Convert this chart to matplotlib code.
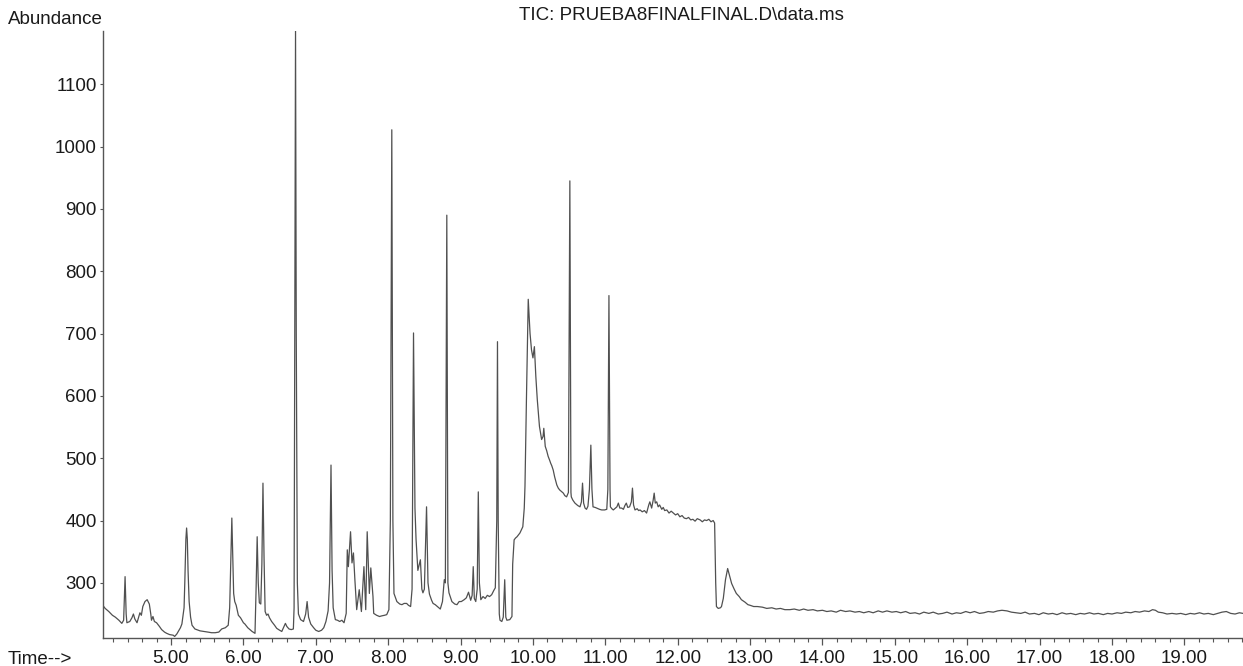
import matplotlib
matplotlib.use("Agg")
import matplotlib.pyplot as plt
from matplotlib.ticker import MultipleLocator, FormatStrFormatter
import numpy as np

plt.rcParams['font.family'] = ['Liberation Sans', 'DejaVu Sans']

title = 'TIC: PRUEBA8FINALFINAL.D\\data.ms'

# early part of the run (min, abundance)
t_early = [4.07, 4.09, 4.14, 4.19, 4.23, 4.28, 4.32, 4.345, 4.365, 4.38, 4.39, 4.43, 4.46, 4.48,
           4.50, 4.53, 4.56, 4.57, 4.59, 4.61, 4.64, 4.67, 4.70, 4.72, 4.73, 4.75, 4.77, 4.80,
           4.84, 4.87, 4.91, 4.94, 4.98, 5.03, 5.05, 5.08, 5.10, 5.13, 5.15, 5.18, 5.19, 5.205,
           5.215, 5.225, 5.235, 5.25, 5.27, 5.29, 5.33, 5.40, 5.46, 5.51, 5.56, 5.61, 5.66, 5.70,
           5.75, 5.79, 5.81, 5.825, 5.84, 5.855, 5.865, 5.88, 5.90, 5.93, 5.96, 5.98, 6.00, 6.02,
           6.06, 6.09, 6.12, 6.16, 6.175, 6.19, 6.205, 6.22, 6.24, 6.255, 6.27, 6.285, 6.30, 6.32,
           6.34, 6.36, 6.39, 6.43, 6.46, 6.50, 6.53, 6.56, 6.58, 6.60, 6.63, 6.66, 6.69, 6.70,
           6.71, 6.72, 6.73, 6.745, 6.76, 6.79, 6.83, 6.86, 6.88, 6.90, 6.93, 6.97, 7.00, 7.04,
           7.08, 7.11, 7.14, 7.17, 7.19, 7.21, 7.225, 7.24, 7.27, 7.30, 7.33, 7.36, 7.39]
a_early = [262, 259, 254, 248, 245, 240, 235, 240, 310, 250, 236, 238, 244, 250,
           242, 236, 248, 252, 248, 262, 270, 273, 266, 250, 240, 246, 238, 236,
           230, 225, 221, 219, 217, 216, 214, 218, 222, 228, 234, 260, 300, 370,
           388, 370, 320, 270, 245, 232, 226, 223, 222, 221, 220, 220, 221, 226,
           228, 232, 260, 330, 404, 330, 283, 270, 264, 248, 244, 240, 236, 234,
           228, 225, 222, 219, 290, 374, 300, 268, 266, 330, 460, 340, 254, 248,
           250, 244, 238, 232, 227, 224, 222, 230, 235, 230, 226, 225, 226, 260,
           700, 1190, 700, 300, 250, 241, 238, 250, 270, 245, 234, 228, 224, 222,
           224, 228, 238, 255, 300, 489, 320, 260, 241, 240, 238, 240, 236]

# middle part with the main peaks
t_mid = [7.42, 7.435, 7.45, 7.48, 7.50, 7.52, 7.54, 7.565, 7.60, 7.63, 7.665, 7.69, 7.71, 7.74,
         7.76, 7.79, 7.80, 7.84, 7.88, 7.91, 7.95, 7.98, 8.01, 8.03, 8.05, 8.065, 8.08, 8.12,
         8.16, 8.19, 8.22, 8.255, 8.28, 8.31, 8.33, 8.35, 8.37, 8.385, 8.41, 8.445, 8.465, 8.48,
         8.50, 8.53, 8.55, 8.57, 8.60, 8.62, 8.65, 8.68, 8.72, 8.75, 8.775, 8.79, 8.81, 8.825,
         8.84, 8.88, 8.92, 8.95, 8.98, 9.01, 9.05, 9.08, 9.11, 9.14, 9.16, 9.175, 9.19, 9.21,
         9.23, 9.245, 9.26, 9.28, 9.31, 9.34, 9.37, 9.40, 9.43, 9.46, 9.48, 9.50, 9.51, 9.52,
         9.535, 9.545, 9.57, 9.59, 9.61, 9.625, 9.64, 9.68, 9.71, 9.72, 9.74, 9.76, 9.78, 9.82,
         9.86, 9.88, 9.89, 9.91, 9.935, 9.96, 9.98, 10.00, 10.02, 10.04, 10.06, 10.09, 10.12]
a_mid = [251, 353, 326, 382, 332, 348, 305, 257, 289, 254, 326, 257, 382, 283,
         324, 278, 251, 248, 246, 247, 248, 249, 257, 400, 1027, 400, 283, 270,
         266, 265, 267, 267, 264, 262, 290, 701, 420, 370, 320, 337, 290, 284,
         290, 422, 300, 282, 272, 267, 265, 262, 258, 270, 305, 300, 890, 300,
         284, 270, 266, 265, 270, 270, 273, 276, 285, 272, 280, 326, 275, 270,
         290, 446, 300, 273, 278, 275, 280, 278, 281, 288, 292, 400, 687, 400,
         250, 240, 238, 245, 305, 245, 240, 241, 246, 330, 369, 372, 374, 380,
         390, 420, 455, 594, 755, 700, 674, 661, 679, 631, 594, 551, 530]

# hump and plateau
t_hump = [10.14, 10.15, 10.17, 10.19, 10.21, 10.23, 10.245, 10.26, 10.28, 10.30, 10.33, 10.35,
          10.37, 10.40, 10.42, 10.44, 10.465, 10.49, 10.51, 10.525, 10.53, 10.55, 10.58, 10.62,
          10.65, 10.67, 10.685, 10.70, 10.72, 10.74, 10.76, 10.78, 10.80, 10.815, 10.83, 10.86,
          10.88, 10.92, 10.95, 10.99, 11.02, 11.035, 11.05, 11.065, 11.07, 11.09, 11.11, 11.14,
          11.16, 11.18, 11.20, 11.225, 11.25, 11.27, 11.29, 11.31, 11.335, 11.36, 11.375, 11.39,
          11.41, 11.44, 11.46, 11.48, 11.51, 11.54, 11.57, 11.60, 11.615, 11.64, 11.66, 11.675,
          11.69, 11.71, 11.73, 11.75, 11.78, 11.80, 11.82, 11.85, 11.88, 11.91, 11.94, 11.97,
          12.00, 12.03, 12.06, 12.09, 12.12, 12.15, 12.18, 12.21, 12.24, 12.27, 12.31, 12.34,
          12.37, 12.40, 12.43, 12.46, 12.49, 12.51, 12.525, 12.535, 12.56, 12.59, 12.605, 12.63,
          12.66, 12.69, 12.72, 12.745, 12.78, 12.81, 12.85, 12.88, 12.93, 12.97, 13.00]
a_hump = [535, 548, 519, 512, 503, 497, 492, 488, 481, 470, 457, 452,
          449, 446, 444, 440, 438, 445, 945, 445, 438, 433, 428, 424,
          422, 430, 460, 428, 420, 418, 423, 450, 521, 450, 422, 421,
          420, 418, 417, 417, 418, 450, 761, 450, 422, 419, 417, 420,
          422, 428, 420, 420, 418, 424, 428, 421, 422, 430, 452, 425,
          417, 419, 416, 417, 414, 416, 412, 425, 430, 420, 432, 444,
          428, 430, 422, 425, 418, 421, 416, 417, 412, 415, 412, 409,
          411, 406, 408, 404, 403, 405, 401, 402, 399, 403, 401, 398,
          401, 400, 402, 398, 400, 396, 300, 262, 259, 260, 262, 275,
          305, 323, 310, 299, 290, 283, 278, 273, 269, 265, 264]

# flat tail to the end of the run
t_tail = [13.05, 13.10, 13.17, 13.23, 13.30, 13.36, 13.42, 13.48, 13.55, 13.61, 13.68, 13.74,
          13.80, 13.87, 13.93, 14.00, 14.06, 14.12, 14.19, 14.25, 14.32, 14.38, 14.45, 14.51,
          14.57, 14.64, 14.70, 14.77, 14.83, 14.89, 14.96, 15.02, 15.08, 15.15, 15.21, 15.28,
          15.34, 15.40, 15.47, 15.53, 15.60, 15.66, 15.72, 15.79, 15.85, 15.91, 15.98, 16.04,
          16.10, 16.17, 16.23, 16.29, 16.36, 16.42, 16.48, 16.55, 16.61, 16.67, 16.74, 16.80,
          16.86, 16.93, 16.99, 17.05, 17.12, 17.18, 17.24, 17.31, 17.37, 17.43, 17.50, 17.56,
          17.62, 17.69, 17.75, 17.81, 17.88, 17.94, 18.00, 18.07, 18.13, 18.19, 18.26, 18.32,
          18.38, 18.45, 18.51, 18.56, 18.60, 18.64, 18.70, 18.76, 18.83, 18.89, 18.95, 19.02,
          19.08, 19.14, 19.21, 19.27, 19.33, 19.40, 19.46, 19.52, 19.58, 19.64, 19.70, 19.76, 19.81]
a_tail = [262, 262, 261, 259, 260, 258, 259, 257, 257, 258, 256, 258,
          256, 257, 255, 256, 254, 255, 253, 256, 254, 255, 253, 254,
          252, 254, 252, 255, 253, 255, 253, 254, 252, 254, 251, 252,
          250, 253, 251, 253, 250, 251, 253, 250, 252, 251, 254, 252,
          254, 251, 252, 254, 253, 255, 256, 255, 253, 252, 251, 253,
          250, 251, 249, 252, 250, 251, 249, 252, 250, 251, 249, 251,
          250, 252, 250, 251, 249, 251, 250, 252, 251, 253, 252, 254,
          253, 255, 254, 257, 256, 253, 252, 250, 251, 250, 251, 249,
          251, 250, 252, 250, 251, 249, 251, 253, 254, 251, 250, 252, 251]

time_min = np.array(t_early + t_mid + t_hump + t_tail)
abundance = np.array(a_early + a_mid + a_hump + a_tail)

fig = plt.figure(figsize=(12.43, 6.66), dpi=100)
ax = fig.add_axes([103 / 1243, 1 - 637.7 / 666, 1 - 103 / 1243, (637.7 - 30.7) / 666])

ax.plot(time_min, abundance, color='#505050', linewidth=0.9)

ax.set_xlim(4.06, 19.81)
ax.set_ylim(212, 1186)

ax.spines['top'].set_visible(False)
ax.spines['right'].set_visible(False)
for s in ['left', 'bottom']:
    ax.spines[s].set_color('#555555')
    ax.spines[s].set_linewidth(1.0)

ax.xaxis.set_major_locator(MultipleLocator(1.0))
ax.xaxis.set_minor_locator(MultipleLocator(0.2))
ax.xaxis.set_major_formatter(FormatStrFormatter('%.2f'))
ax.yaxis.set_major_locator(MultipleLocator(100))

ax.tick_params(axis='x', which='major', length=5, width=0.9, color='#555555',
               labelsize=13.5, labelcolor='#1a1a1a', pad=4)
ax.tick_params(axis='x', which='minor', length=3, width=0.8, color='#555555')
ax.tick_params(axis='y', which='major', length=2.5, width=0.8, color='#555555',
               labelsize=13.5, labelcolor='#1a1a1a', pad=2)

fig.text(8 / 1243, 1 - 20 / 666, 'Abundance', fontsize=13.5, color='#1a1a1a',
         ha='left', va='center')
fig.text(8 / 1243, 1 - 659 / 666, 'Time-->', fontsize=13.5, color='#1a1a1a',
         ha='left', va='center')
fig.text(681 / 1243, 1 - 15 / 666, title, fontsize=13.5, color='#1a1a1a',
         ha='center', va='center')

fig.savefig('out.png', dpi=100)
